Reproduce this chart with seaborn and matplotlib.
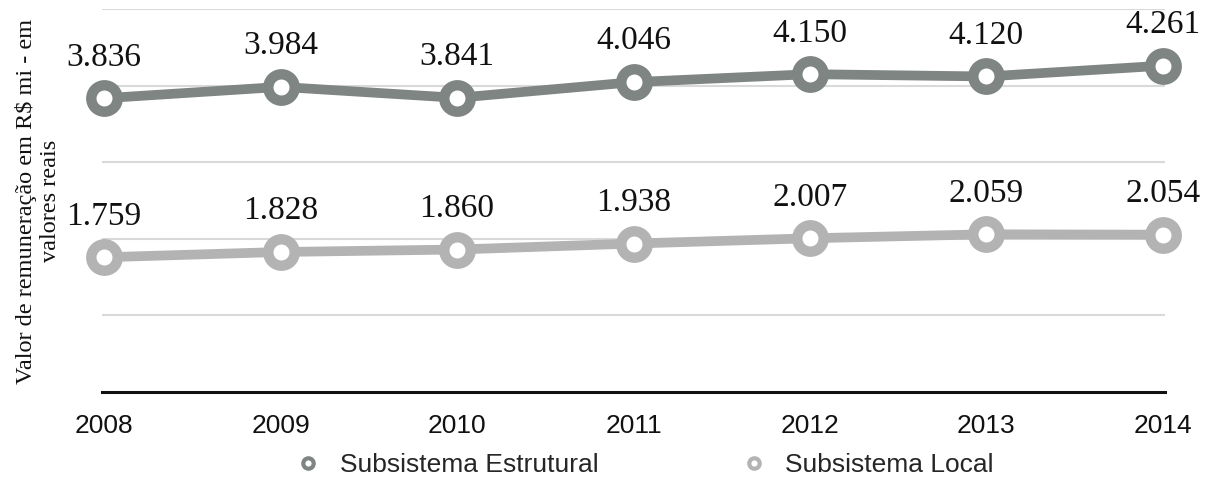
import matplotlib
matplotlib.use("Agg")
import matplotlib.pyplot as plt
from matplotlib.lines import Line2D
import seaborn as sns
import pandas as pd

# Remuneração anual por subsistema (R$ mi, valores reais)
anos = [2008, 2009, 2010, 2011, 2012, 2013, 2014]
estrutural = [3836, 3984, 3841, 4046, 4150, 4120, 4261]
local = [1759, 1828, 1860, 1938, 2007, 2059, 2054]
series_nomes = ["Subsistema Estrutural", "Subsistema Local"]
cores = ["#7f8582", "#b3b3b3"]

df = pd.DataFrame({
    "ano": anos * 2,
    "valor": estrutural + local,
    "serie": [series_nomes[0]] * len(anos) + [series_nomes[1]] * len(anos),
})

sns.set_theme(style="white")
plt.rcParams["font.family"] = ["Liberation Sans", "DejaVu Sans"]

fig = plt.figure(figsize=(12.09, 4.78), dpi=100)
ax = fig.add_axes([0.0844, 0.180, 0.8792, 0.801])

for nome, cor in zip(series_nomes, cores):
    sub = df[df["serie"] == nome]
    sns.lineplot(data=sub, x="ano", y="valor", ax=ax, color=cor, lw=7,
                 marker="o", ms=19, mfc="white", mec=cor, mew=7.5,
                 solid_capstyle="butt", zorder=3, legend=False, clip_on=False)
    for x, v in zip(sub["ano"], sub["valor"]):
        ax.annotate(f"{v:,}".replace(",", "."), (x, v), xytext=(0, 23.5),
                    textcoords="offset points", ha="center", va="baseline",
                    fontsize=24, family="Liberation Serif", color="#111111")

ax.set_xlim(2008 - 0.012, 2014 + 0.012)
ax.set_ylim(0, 5000)
ax.set_yticks([1000, 2000, 3000, 4000, 5000])
ax.set_yticklabels([])
ax.yaxis.grid(True, color="#d9d9d9", lw=1.5)
ax.xaxis.grid(False)
ax.set_xticks(anos)
ax.set_xticklabels([str(a) for a in anos], fontsize=19, color="#111111")
ax.tick_params(axis="x", length=0, pad=16)
ax.tick_params(axis="y", length=0)
for s in ["top", "right", "left"]:
    ax.spines[s].set_visible(False)
ax.spines["bottom"].set_color("#111111")
ax.spines["bottom"].set_linewidth(2.2)
ax.set_xlabel("")
ax.set_ylabel("")

fig.text(38 / 1209, 1 - 201 / 478,
         "Valor de remuneração em R$ mi - em\nvalores reais",
         rotation=90, ha="center", va="center", multialignment="center",
         fontsize=17.5, family="Liberation Serif", color="#111111",
         linespacing=1.15)

handles = [Line2D([], [], linestyle="none", marker="o", ms=7.5, mfc="white",
                  mec=c, mew=3.0) for c in cores]
fig.legend(handles, series_nomes, loc="center", ncol=2,
           bbox_to_anchor=(643 / 1209, 1 - 465 / 478), frameon=False,
           fontsize=19, handletextpad=0.6, columnspacing=5.3,
           handlelength=1.2, borderpad=0)

fig.savefig("out.png", dpi=100)
